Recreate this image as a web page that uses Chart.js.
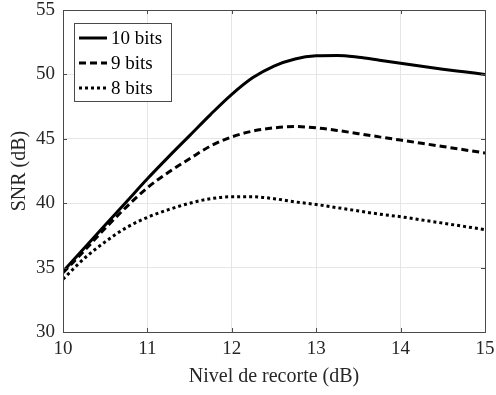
<!DOCTYPE html>
<html>
<head>
<meta charset="utf-8">
<script src="https://cdn.jsdelivr.net/npm/chart.js@4.4.0/dist/chart.umd.min.js"></script>
<style>
  html, body { margin: 0; padding: 0; background: #fff; }
  #wrap { width: 496px; height: 395px; }
</style>
</head>
<body>
<div id="wrap"><canvas id="mycanvas" width="496" height="395"></canvas></div>
<script>
// clipping level (dB)
var nivel = [10, 10.25, 10.5, 10.75, 11, 11.25, 11.5, 11.75, 12, 12.25, 12.5,
             12.75, 13, 13.25, 13.5, 13.75, 14, 14.25, 14.5, 14.75, 15];
// SNR (dB) per resolution
var snr10 = [34.7, 36.5, 38.3, 40.1, 41.9, 43.6, 45.25, 46.9, 48.45, 49.75, 50.65,
             51.2, 51.44, 51.47, 51.33, 51.1, 50.86, 50.63, 50.4, 50.2, 50.0];
var snr9  = [34.6, 36.3, 38.05, 39.7, 41.2, 42.4, 43.45, 44.45, 45.15, 45.6, 45.85,
             45.95, 45.85, 45.65, 45.4, 45.15, 44.9, 44.65, 44.4, 44.15, 43.9];
var snr8  = [34.1, 35.7, 37.0, 38.1, 38.9, 39.5, 40.0, 40.35, 40.5, 40.5, 40.35,
             40.1, 39.9, 39.65, 39.4, 39.15, 38.95, 38.7, 38.45, 38.2, 37.95];
var series = ['10 bits', '9 bits', '8 bits'];
var xTicks = [10, 11, 12, 13, 14, 15];
var yTicks = [30, 35, 40, 45, 50, 55];

var serif = "'Liberation Serif', 'Times New Roman', serif";
var axisColor = '#4a4a4a';

function pts(ys) {
    var out = [];
    for (var i in nivel) {
        out.push({x: nivel[i], y: ys[i]});
    }
    return out;
}

// box around the axes, inward ticks and the boxed legend
var matlabLook = {
    id: 'matlabLook',
    afterDraw: function(chart) {
        var ctx = chart.ctx;
        var a = chart.chartArea;
        var xs = chart.scales.x, ys = chart.scales.y;
        ctx.save();
        ctx.strokeStyle = axisColor;
        ctx.lineWidth = 1;
        ctx.beginPath();
        ctx.rect(Math.round(a.left) + 0.5, Math.round(a.top) + 0.5,
                 Math.round(a.right - a.left), Math.round(a.bottom - a.top));
        ctx.stroke();
        var tl = 4;
        ctx.beginPath();
        xTicks.forEach(function(v) {
            var px = Math.round(xs.getPixelForValue(v)) + 0.5;
            ctx.moveTo(px, a.bottom); ctx.lineTo(px, a.bottom - tl);
            ctx.moveTo(px, a.top); ctx.lineTo(px, a.top + tl);
        });
        yTicks.forEach(function(v) {
            var py = Math.round(ys.getPixelForValue(v)) + 0.5;
            ctx.moveTo(a.left, py); ctx.lineTo(a.left + tl, py);
            ctx.moveTo(a.right, py); ctx.lineTo(a.right - tl, py);
        });
        ctx.stroke();

        // legend
        var lx = a.left + 11, ly = a.top + 13, lw = 97, lh = 78;
        ctx.fillStyle = '#fff';
        ctx.fillRect(lx, ly, lw, lh);
        ctx.strokeStyle = axisColor;
        ctx.strokeRect(Math.round(lx) + 0.5, Math.round(ly) + 0.5, lw, lh);
        ctx.font = '19px ' + serif;
        ctx.textBaseline = 'middle';
        ctx.textAlign = 'left';
        chart.data.datasets.forEach(function(ds, i) {
            var yy = ly + 15 + i * 25;
            ctx.strokeStyle = '#000';
            ctx.lineWidth = ds.borderWidth;
            ctx.setLineDash(ds.borderDash || []);
            ctx.beginPath();
            ctx.moveTo(lx + 5, yy);
            ctx.lineTo(lx + 33, yy);
            ctx.stroke();
            ctx.setLineDash([]);
            ctx.fillStyle = '#000';
            ctx.fillText(ds.label, lx + 37, yy + 1);
        });
        ctx.restore();
    }
};

var chartdata = {
    datasets: [
        {
            label: series[0],
            data: pts(snr10),
            borderColor: '#000',
            borderWidth: 3,
            borderDash: []
        },
        {
            label: series[1],
            data: pts(snr9),
            borderColor: '#000',
            borderWidth: 3,
            borderDash: [7, 4]
        },
        {
            label: series[2],
            data: pts(snr8),
            borderColor: '#000',
            borderWidth: 3,
            borderDash: [3, 3]
        }
    ]
};

var ctx = document.getElementById('mycanvas');

var lineGraph = new Chart(ctx, {
    type: 'line',
    data: chartdata,
    plugins: [matlabLook],
    options: {
        responsive: false,
        animation: false,
        layout: { padding: { top: 10, right: 11, left: 0, bottom: 0 } },
        elements: {
            point: { radius: 0 },
            line: { cubicInterpolationMode: 'monotone', fill: false, borderCapStyle: 'butt' }
        },
        plugins: {
            legend: { display: false },
            tooltip: { enabled: false }
        },
        scales: {
            x: {
                type: 'linear',
                min: 10,
                max: 15,
                afterFit: function(scale) {
                    scale.height = 63;
                    scale.paddingLeft = 0;
                    scale.paddingRight = 0;
                },
                afterBuildTicks: function(scale) {
                    scale.ticks = xTicks.map(function(v) { return {value: v}; });
                },
                ticks: {
                    color: '#262626',
                    font: { family: serif, size: 19 },
                    padding: 6,
                    maxRotation: 0
                },
                grid: { color: '#e6e6e6', drawTicks: false },
                border: { color: axisColor },
                title: {
                    display: true,
                    text: 'Nivel de recorte (dB)',
                    color: '#262626',
                    font: { family: serif, size: 20 },
                    padding: { top: 0, bottom: 6 }
                }
            },
            y: {
                type: 'linear',
                min: 30,
                max: 55,
                afterFit: function(scale) {
                    scale.width = 63;
                    scale.paddingTop = 0;
                    scale.paddingBottom = 0;
                },
                afterBuildTicks: function(scale) {
                    scale.ticks = yTicks.map(function(v) { return {value: v}; });
                },
                ticks: {
                    color: '#262626',
                    font: { family: serif, size: 19 },
                    padding: 8
                },
                grid: { color: '#e6e6e6', drawTicks: false },
                border: { color: axisColor },
                title: {
                    display: true,
                    text: 'SNR (dB)',
                    color: '#262626',
                    font: { family: serif, size: 20 },
                    padding: { top: 8, bottom: 0 }
                }
            }
        }
    }
});
</script>
</body>
</html>
